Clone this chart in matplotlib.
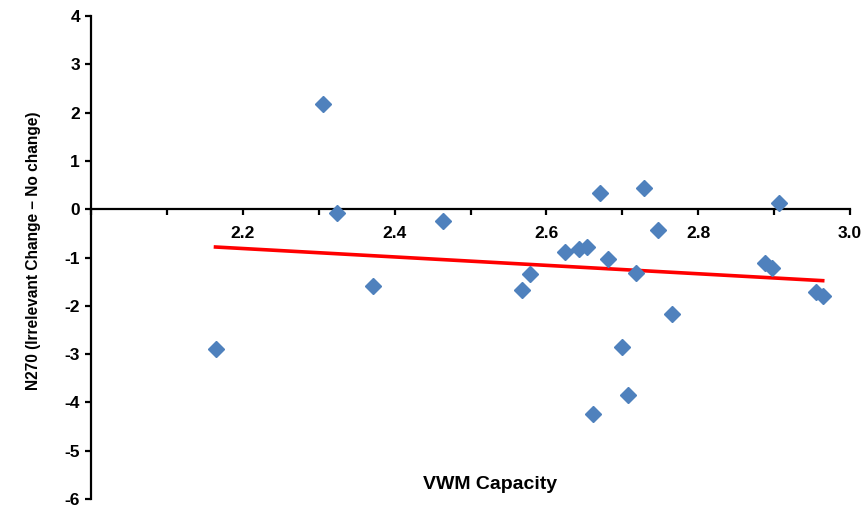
import numpy as np
import matplotlib.pyplot as plt

plt.rcParams['font.family'] = ['Liberation Sans', 'DejaVu Sans']

# VWM capacity vs N270 difference
vwm = [2.164, 2.305, 2.324, 2.371, 2.464, 2.568, 2.579, 2.625, 2.643, 2.654,
       2.662, 2.671, 2.681, 2.700, 2.708, 2.718, 2.728, 2.747, 2.765, 2.888,
       2.897, 2.907, 2.955, 2.964]
n270 = [-2.90, 2.17, -0.08, -1.59, -0.24, -1.68, -1.35, -0.89, -0.82, -0.78,
        -4.23, 0.34, -1.03, -2.86, -3.85, -1.33, 0.43, -0.44, -2.17, -1.12,
        -1.21, 0.13, -1.72, -1.80]

x_ticks = [2.0, 2.1, 2.2, 2.3, 2.4, 2.5, 2.6, 2.7, 2.8, 2.9, 3.0]
x_labels = ['', '', '2.2', '', '2.4', '', '2.6', '', '2.8', '', '3.0']
y_ticks = [-6, -5, -4, -3, -2, -1, 0, 1, 2, 3, 4]
y_labels = ['-6', '-5', '-4', '-3', '-2', '-1', '0', '1', '2', '3', '4']

x = np.array(vwm)
y = np.array(n270)

fig = plt.figure(figsize=(8.62, 5.09), dpi=100)
ax = fig.add_axes([0.1056, 0.0196, 0.8805, 0.949])

ax.plot(x, y, linestyle='none', marker='D', markersize=8,
        color='#4F81BD', zorder=3)

# linear trend line over the data range
k, b = np.polyfit(x, y, 1)
xt = np.array([x.min(), x.max()])
ax.plot(xt, k * xt + b, color='#FF0000', linewidth=2.6, zorder=2)

ax.set_xlim(2.0, 3.0)
ax.set_ylim(-6, 4)

ax.spines['top'].set_visible(False)
ax.spines['right'].set_visible(False)
ax.spines['bottom'].set_position(('data', 0))
for s in ['left', 'bottom']:
    ax.spines[s].set_linewidth(1.6)
    ax.spines[s].set_color('black')

ax.set_xticks(x_ticks)
ax.set_xticklabels(x_labels)
ax.set_yticks(y_ticks)
ax.set_yticklabels(y_labels)
ax.tick_params(axis='both', direction='out', length=4, width=1.6,
               labelsize=12.5, colors='black')
ax.tick_params(axis='x', pad=8)
ax.tick_params(axis='y', pad=4)
for lab in ax.get_xticklabels() + ax.get_yticklabels():
    lab.set_fontweight('bold')

ax.text(0.526, 0.03, 'VWM Capacity', transform=ax.transAxes,
        ha='center', va='center', fontsize=14, fontweight='bold')
fig.text(0.039, 0.508, 'N270 (Irrelevant Change \u2013 No change)',
         rotation=90, ha='center', va='center', fontsize=11.2,
         fontweight='bold')

fig.savefig('out.png', dpi=100)
